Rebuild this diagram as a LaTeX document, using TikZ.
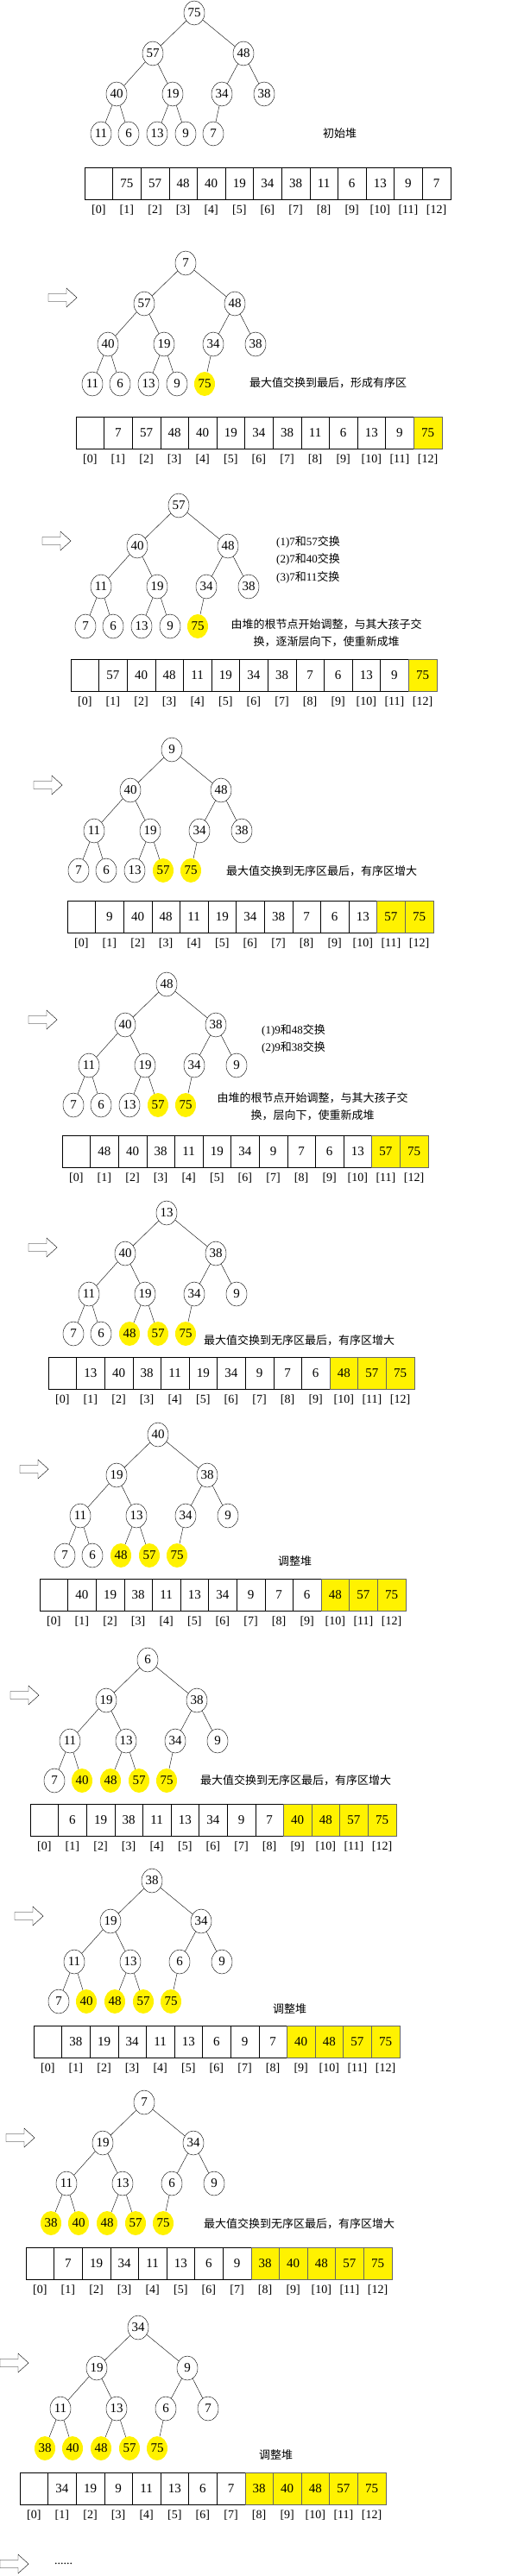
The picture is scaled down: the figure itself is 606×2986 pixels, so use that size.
\documentclass[tikz,border=0pt]{standalone}
\usepackage{fontspec}
\setmainfont{Liberation Serif}
\newfontfamily\cjk{Noto Sans CJK SC}
\usetikzlibrary{shapes.geometric,positioning}

\tikzset{
  heap/.style={ellipse,draw,minimum width=24pt,minimum height=28pt,inner sep=0pt,font=\fontsize{15}{17}\selectfont},
  sorted/.style={heap,draw=none,fill=yellow},
  cell/.style={rectangle,draw,minimum width=32.6pt,minimum height=37pt,inner sep=0pt,font=\fontsize{15}{17}\selectfont},
  sortedcell/.style={cell,fill=yellow,draw=black!60},
  index/.style={inner sep=0pt,font=\fontsize{14}{16}\selectfont},
  note/.style={anchor=west,inner sep=0pt,font=\cjk\fontsize{13}{20}\selectfont},
}
\def\tdx{{0,-48,57,-90,-25,32,81,-108,-76,-43,-10,22}}
\def\tdy{{0,47,47,94,94,94,94,140,140,140,140,140}}
% one step: name, root x, root y, array left, array top, values, first sorted index
\newcommand\heapstage[7]{%
  \node[cell] (#1c0) at (#4+16.3,#5+18.5) {};
  \node[index,below=6pt of #1c0] {[0]};
  \foreach \v [count=\i] in {#6} {
    \pgfmathsetmacro\dx{\tdx[\i-1]}
    \pgfmathsetmacro\dy{\tdy[\i-1]}
    \ifnum\i<#7\relax\def\st{heap}\def\ct{cell}\else\def\st{sorted}\def\ct{sortedcell}\fi
    \node[\st] (#1n\i) at (#2+\dx,#3+\dy) {\v};
    \node[\ct] (#1c\i) at (#4+\i*32.6+16.3,#5+18.5) {\v};
    \node[index,below=6pt of #1c\i] {[\i]};
  }
  \foreach \i in {2,...,12} {
    \pgfmathtruncatemacro\p{floor(\i/2)}
    \draw (#1n\p) -- (#1n\i);
  }
}
\newcommand\stagearrow[2]{%
  \draw (#1,#2-4.5) -- ++(21,0) -- ++(0,-6.5) -- (#1+33,#2) -- (#1+21,#2+11) -- ++(0,-6.5) -- (#1,#2+4.5) -- cycle;
}

\begin{document}
\begin{tikzpicture}[x=1pt,y=-1pt]
\useasboundingbox (0,0) rectangle (606,2986);

\heapstage{a}{225}{15}{98}{194}{75,57,48,40,19,34,38,11,6,13,9,7}{13}
\node[note] (ta) at (374,155) {初始堆};

\stagearrow{56}{345}
\heapstage{b}{215}{305}{88}{483}{7,57,48,40,19,34,38,11,6,13,9,75}{12}
\node[note] (tb) at (289,444) {最大值交换到最后，形成有序区};

\stagearrow{49}{627}
\heapstage{c}{207}{586}{82}{764}{57,40,48,11,19,34,38,7,6,13,9,75}{12}
\node[note,font=\fontsize{13}{20.5}\selectfont,align=left,anchor=north west] (tc) at (320,621)
  {(1)7{\cjk 和}57{\cjk 交换}\\(2)7{\cjk 和}40{\cjk 交换}\\(3)7{\cjk 和}11{\cjk 交换}};
\node[note,align=center,anchor=center] (uc) at (378,734) {由堆的根节点开始调整，与其大孩子交\\换，逐渐层向下，使重新成堆};

\stagearrow{39}{910}
\heapstage{d}{199}{869}{78}{1044}{9,40,48,11,19,34,38,7,6,13,57,75}{11}
\node[note] (td) at (262,1010) {最大值交换到无序区最后，有序区增大};

\stagearrow{33}{1182}
\heapstage{e}{193}{1141}{72}{1316}{48,40,38,11,19,34,9,7,6,13,57,75}{11}
\node[note,font=\fontsize{13}{20.5}\selectfont,align=left,anchor=north west] (te) at (303,1187)
  {(1)9{\cjk 和}48{\cjk 交换}\\(2)9{\cjk 和}38{\cjk 交换}};
\node[note,align=center,anchor=center] (ue) at (362,1283) {由堆的根节点开始调整，与其大孩子交\\换，层向下，使重新成堆};

\stagearrow{33}{1446}
\heapstage{f}{193}{1406}{56}{1573}{13,40,38,11,19,34,9,7,6,48,57,75}{10}
\node[note] (tf) at (236,1554) {最大值交换到无序区最后，有序区增大};

\stagearrow{23}{1703}
\heapstage{g}{183}{1663}{46}{1830}{40,19,38,11,13,34,9,7,6,48,57,75}{10}
\node[note] (tg) at (322,1810) {调整堆};

\stagearrow{12}{1965}
\heapstage{h}{171}{1924}{35}{2091}{6,19,38,11,13,34,9,7,40,48,57,75}{9}
\node[note] (th) at (232,2064) {最大值交换到无序区最后，有序区增大};

\stagearrow{17}{2221}
\heapstage{i}{176}{2180}{39}{2348}{38,19,34,11,13,6,9,7,40,48,57,75}{9}
\node[note] (ti) at (316,2329) {调整堆};

\stagearrow{7}{2478}
\heapstage{j}{167}{2437}{30}{2605}{7,19,34,11,13,6,9,38,40,48,57,75}{8}
\node[note] (tj) at (236,2578) {最大值交换到无序区最后，有序区增大};

\stagearrow{0}{2739}
\heapstage{k}{160}{2698}{23}{2866}{34,19,9,11,13,6,7,38,40,48,57,75}{8}
\node[note] (tk) at (300,2846) {调整堆};

\stagearrow{0}{2972}
\node[anchor=west,inner sep=0pt,font=\fontsize{14}{16}\selectfont] (more) at (63,2972) {......};
\end{tikzpicture}
\end{document}
